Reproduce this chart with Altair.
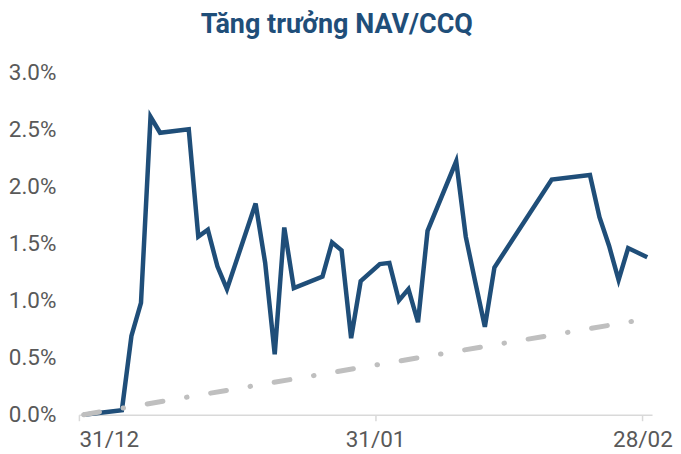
import altair as alt
import pandas as pd

# NAV/CCQ growth (%)
dates = [
    "2020-12-31", "2021-01-04", "2021-01-05", "2021-01-06", "2021-01-07", "2021-01-08",
    "2021-01-11", "2021-01-12", "2021-01-13", "2021-01-14", "2021-01-15",
    "2021-01-18", "2021-01-19", "2021-01-20", "2021-01-21", "2021-01-22",
    "2021-01-25", "2021-01-26", "2021-01-27", "2021-01-28", "2021-01-29",
    "2021-01-31", "2021-02-01", "2021-02-02", "2021-02-03", "2021-02-04", "2021-02-05",
    "2021-02-08", "2021-02-09", "2021-02-10", "2021-02-11", "2021-02-12",
    "2021-02-18", "2021-02-22", "2021-02-23", "2021-02-24", "2021-02-25", "2021-02-26",
    "2021-02-28",
]
nav_growth = [
    0.00, 0.04, 0.69, 0.98, 2.61, 2.47,
    2.50, 1.56, 1.62, 1.30, 1.10,
    1.85, 1.33, 0.53, 1.64, 1.11,
    1.21, 1.51, 1.44, 0.67, 1.17,
    1.32, 1.33, 1.00, 1.10, 0.81, 1.61,
    2.22, 1.56, 1.16, 0.77, 1.29,
    2.06, 2.10, 1.73, 1.48, 1.18, 1.46,
    1.38,
]
bench_dates = ["2020-12-31", "2021-02-28"]
bench_values = [0.00, 0.84]

tick_dates = [(2020, 12, 31), (2021, 1, 31), (2021, 2, 28)]
y_ticks = [0, 0.5, 1.0, 1.5, 2.0, 2.5, 3.0]

nav_df = pd.DataFrame({"date": dates, "value": nav_growth})
bench_df = pd.DataFrame({"date": bench_dates, "value": bench_values})

x_enc = alt.X(
    "utcyearmonthdate(date):T",
    bandPosition=0.5,
    title=None,
    scale=alt.Scale(
        type="utc",
        nice=False,
        domain=[alt.DateTime(year=2020, month=12, date=31, utc=True),
                alt.DateTime(year=2021, month=3, date=1, utc=True)],
    ),
    axis=alt.Axis(
        values=[alt.DateTime(year=y, month=m, date=d, utc=True) for (y, m, d) in tick_dates],
        labelExpr="utcFormat(datum.value, '%d/%m')",
        domainColor="#D9D9D9",
        domainWidth=1.5,
        tickColor="#D9D9D9",
        tickWidth=1.5,
        tickSize=6,
        labelPadding=8,
        grid=False,
    ),
)
y_enc = alt.Y(
    "value:Q",
    title=None,
    scale=alt.Scale(domain=[0, 3.0], nice=False, zero=True),
    axis=alt.Axis(
        values=y_ticks,
        labelExpr="format(datum.value, '.1f') + '%'",
        domain=False,
        ticks=False,
        grid=False,
        labelPadding=23,
    ),
)

nav_line = alt.Chart(nav_df).mark_line(
    color="#1F4E79", strokeWidth=4.5, strokeJoin="miter"
).encode(x=x_enc, y=y_enc)

bench_line = alt.Chart(bench_df).mark_line(
    color="#BFBFBF", strokeWidth=5, strokeCap="round", strokeDash=[16, 24, 0.5, 24]
).encode(x=x_enc, y=y_enc)

chart = alt.layer(nav_line, bench_line).properties(
    width=574,
    height=343,
    padding={"left": 0, "top": 3, "right": 0, "bottom": 0},
    title=alt.TitleParams(
        "Tăng trưởng NAV/CCQ",
        font="Roboto",
        fontSize=27,
        fontWeight="bold",
        color="#1F4E79",
        anchor="start",
        frame="group",
        dx=122,
        offset=22,
    ),
).configure_view(stroke=None).configure_axis(
    labelFont="Roboto",
    labelFontSize=22.5,
    labelColor="#595959",
)

chart.save("out.html", embed_options={"renderer": "svg", "actions": False})
